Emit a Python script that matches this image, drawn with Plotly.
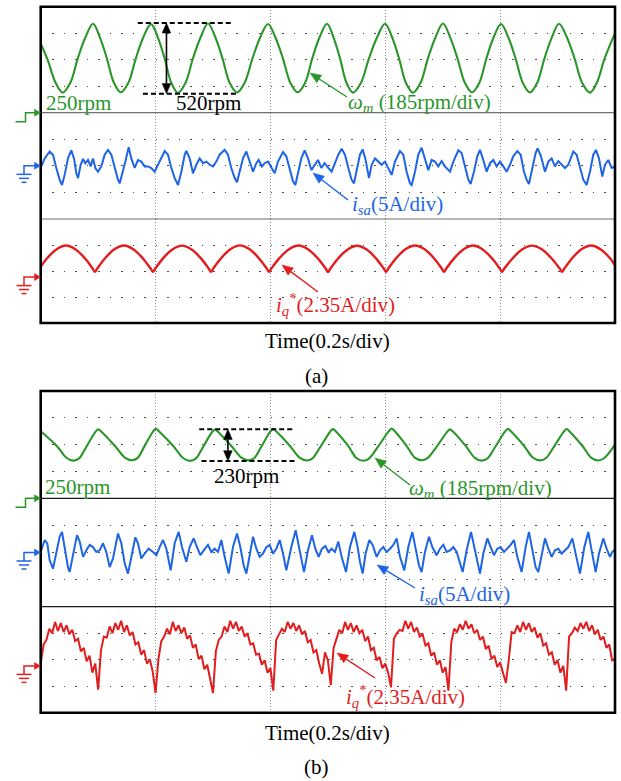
import math
import plotly.graph_objects as go

# ------------------------------------------------------------------
# Scope captures: time in ms (0.2 s/div), speed in rpm, currents in A
# ------------------------------------------------------------------

# (a) rotor speed
wm_a_t = [0, 12.0, 26.0, 38.3,
          51.5, 64.7, 77.9, 91.1, 103.2, 115.2, 127.3, 139.3,
          152.5, 165.7, 178.9, 192.1, 203.9, 215.6, 227.4, 239.1,
          252.2, 265.2, 278.3, 291.3, 303.9, 316.5, 329.2, 341.8,
          355.3, 368.8, 382.3, 395.8, 408.7, 421.6, 434.6, 447.5,
          460.3, 473.0, 485.8, 498.5, 509.8, 521.2, 532.5, 543.8,
          557.7, 571.6, 585.6, 599.5, 611.7, 623.9, 636.1, 648.3,
          661.4, 674.4, 687.5, 700.5, 713.1, 725.7, 738.4, 751.0,
          763.6, 776.2, 788.9, 801.5, 814.1, 826.7, 839.4, 852.0,
          864.6, 877.2, 889.9, 902.5, 916.0, 929.5, 943.0, 956.5,
          968.5, 982.0, 1000]
wm_a_v = [760, 640, 470, 398,
          470, 652, 805, 905, 803, 650, 472, 400,
          468, 650, 807, 902, 805, 652, 470, 396,
          470, 651, 803, 906, 807, 650, 468, 399,
          472, 650, 805, 903, 803, 652, 471, 401,
          469, 652, 807, 905, 805, 650, 470, 398,
          471, 650, 803, 904, 807, 651, 468, 397,
          470, 652, 805, 906, 803, 650, 472, 400,
          468, 651, 807, 903, 805, 652, 470, 399,
          471, 650, 803, 905, 807, 650, 469, 398,
          472, 650, 836]

# (a) phase current
isa_a_t = [0, 6.9, 15.6, 21.4, 27.2, 33.0, 37.1, 41.7, 47.5, 53.3,
           58.0, 62.0, 65.0, 69.6, 73.7, 77.7, 82.4, 87.0, 91.1, 95.1,
           99.8, 105.6, 111.4, 117.2, 123.0, 128.8, 134.6, 137.5, 143.3, 147.4,
           153.2, 157.8, 163.6, 169.4, 175.2, 181.0, 186.8, 192.6, 198.4, 204.2,
           210.0, 215.9, 221.7, 227.5, 233.3, 239.1, 244.9, 250.7, 253.6, 259.4,
           265.2, 271.0, 276.8, 282.6, 288.4, 294.2, 300.0, 305.8, 311.6, 320.3,
           326.1, 331.9, 337.7, 341.8, 346.4, 352.2, 358.1, 363.9, 369.7, 375.5,
           379.5, 385.3, 390.0, 395.8, 401.6, 407.4, 413.2, 421.9, 427.7, 433.5,
           439.3, 443.4, 448.0, 453.8, 459.6, 465.4, 471.2, 477.0, 482.8, 488.6,
           494.4, 500.8, 506.6, 512.4, 518.2, 524.0, 529.8, 535.6, 541.4, 545.5,
           550.1, 555.9, 560.6, 565.8, 571.6, 576.3, 582.1, 587.9, 593.7, 599.5,
           605.3, 611.1, 616.9, 625.6, 631.4, 637.2, 643.0, 645.9, 651.7, 657.5,
           663.3, 669.1, 674.9, 680.7, 686.5, 692.3, 698.1, 703.9, 712.7, 718.5,
           727.2, 733.0, 738.8, 744.6, 748.6, 754.4, 760.2, 764.9, 770.7, 776.5,
           782.3, 788.1, 793.9, 799.7, 805.5, 811.3, 817.1, 822.9, 829.9, 835.7,
           841.5, 846.1, 850.2, 856.0, 861.8, 865.3, 871.1, 878.1, 883.9, 889.7,
           895.5, 901.3, 907.1, 912.9, 918.7, 927.4, 933.2, 939.0, 944.8, 950.6,
           956.4, 962.2, 966.9, 972.1, 977.9, 982.5, 988.3, 994.1, 1000]
isa_a_v = [-0.4, 1.4, 2.7, 2.1, -0.4, -2.6, -3.6, -1.7, 1.4, 2.9,
           1.4, -1.4, -2.3, 0.2, 1.3, 0.5, 1.1, -0.1, 1.4, -0.4,
           -1.1, -0.1, 2.1, 3.0, 2.1, -0.4, -2.6, -3.3, -1.1, 0.8,
           3.5, 1.4, -0.4, 1.1, 0.8, -0.1, -0.1, -0.4, -1.1, 0.2,
           1.8, 2.8, 2.1, -0.4, -2.3, -3.6, -1.1, 2.1, 2.8, 1.4,
           -1.4, 0.2, 1.4, 0.5, 0.8, 0.2, -0.1, 0.8, 2.1, 3.0,
           2.1, -0.4, -2.3, -3.1, -1.1, 1.4, 2.7, 0.8, -1.1, 0.5,
           1.1, -0.1, 0.5, 0.8, -0.4, -1.4, 0.8, 2.6, 1.8, -0.8,
           -2.9, -3.6, -1.1, 1.4, 2.9, 1.4, -0.8, 0.2, 1.1, -0.4,
           0.5, -0.4, -1.1, 0.5, 2.1, 3.2, 2.1, -0.4, -2.6, -3.3,
           -1.1, 2.1, 3.1, 1.1, -2.3, 0.2, 1.4, 0.8, 0.2, 0.8,
           -0.4, -1.7, 0.8, 2.8, 2.1, -1.1, -3.3, -3.6, -1.1, 2.1,
           3.4, 1.4, -0.8, 1.1, 0.8, -0.1, 0.9, -0.1, -1.1, 0.8,
           2.9, 2.4, -0.1, -2.6, -3.4, -1.1, 1.8, 3.0, 1.1, -1.1,
           0.5, 1.1, -0.1, 0.8, -0.1, -1.1, 0.2, 1.8, 2.8, 2.1,
           -1.1, -2.6, -3.4, -0.8, 2.4, 3.3, 1.8, -1.1, 0.8, 1.4,
           -0.1, 0.9, 0.2, -0.4, 0.2, 2.7, 2.1, -0.4, -2.6, -3.6,
           -1.1, 2.1, 3.0, 1.4, -2.0, 0.2, 1.1, -0.4, -0.1]

# (a) q-axis current reference
iq_a_t = [0, 10.4, 27.2, 44.0, 60.9, 77.7, 90.5, 94.5,
          98.5, 111.3, 128.2, 145.0, 161.8, 178.7, 191.5, 195.5,
          199.5, 212.3, 229.2, 246.0, 262.8, 279.7, 292.5, 296.5,
          300.5, 313.3, 330.2, 347.0, 363.8, 380.7, 393.5, 397.5,
          401.5, 414.6, 431.8, 448.9, 466.0, 483.2, 496.3, 500.3,
          504.3, 517.1, 534.0, 550.8, 567.6, 584.5, 597.3, 601.3,
          605.3, 618.1, 635.0, 651.8, 668.6, 685.5, 698.3, 702.3,
          706.3, 719.1, 736.0, 752.8, 769.6, 786.5, 799.3, 803.3,
          807.3, 820.7, 838.1, 855.6, 873.0, 890.4, 903.8, 907.8,
          911.8, 924.7, 941.5, 958.4, 975.3, 992.1, 1000]
iq_a_v = [0.94, 1.65, 2.50, 2.85, 2.50, 1.65, 0.77, 0.47,
          0.77, 1.66, 2.51, 2.86, 2.50, 1.64, 0.77, 0.47,
          0.77, 1.65, 2.49, 2.84, 2.49, 1.65, 0.78, 0.48,
          0.78, 1.66, 2.52, 2.87, 2.51, 1.66, 0.77, 0.47,
          0.77, 1.65, 2.50, 2.85, 2.50, 1.65, 0.77, 0.46,
          0.76, 1.64, 2.48, 2.83, 2.49, 1.65, 0.77, 0.47,
          0.77, 1.66, 2.51, 2.86, 2.51, 1.66, 0.78, 0.48,
          0.78, 1.65, 2.50, 2.85, 2.50, 1.65, 0.77, 0.47,
          0.77, 1.64, 2.49, 2.84, 2.49, 1.64, 0.77, 0.47,
          0.77, 1.66, 2.51, 2.86, 2.50, 1.65, 1.05]

# (b) rotor speed
wm_b_t = [0, 28.0, 44.8,
          56.8, 66.8, 78.5, 95.3, 100.3, 105.3, 129.4, 146.5,
          158.5, 168.5, 179.6, 195.8, 200.8, 205.8, 230.4, 247.9,
          259.9, 269.9, 281.7, 298.5, 303.5, 308.5, 332.5, 349.5,
          361.5, 371.5, 383.3, 400.0, 405.0, 410.0, 434.1, 451.2,
          463.2, 473.2, 486.1, 504.0, 509.0, 514.0, 535.4, 549.7,
          561.7, 571.7, 586.5, 606.2, 611.2, 616.2, 637.3, 651.4,
          663.4, 673.4, 688.1, 707.7, 712.7, 717.7, 740.3, 755.9,
          767.9, 777.9, 790.8, 808.7, 813.7, 818.7, 841.6, 857.4,
          869.4, 879.4, 892.7, 910.9, 915.9, 920.9, 943.4, 958.9,
          970.9, 980.9, 1000]
wm_b_v = [737, 630, 545,
          524, 540, 618, 733, 752, 736, 630, 546,
          527, 542, 620, 737, 756, 738, 632, 543,
          522, 538, 616, 732, 750, 734, 628, 545,
          526, 541, 619, 736, 755, 737, 630, 544,
          525, 540, 618, 734, 753, 736, 631, 543,
          523, 539, 620, 738, 757, 739, 630, 546,
          527, 542, 617, 733, 751, 735, 629, 544,
          524, 540, 619, 736, 755, 737, 631, 545,
          526, 541, 618, 735, 754, 736, 630, 544,
          525, 541, 640]

# (b) phase current
isa_b_t = [0, 6.9, 11.5, 15.6, 21.4, 27.2, 33.0, 37.1, 41.7, 47.5,
           50.4, 56.2, 63.2, 67.9, 73.7, 79.5, 85.3, 91.1, 96.9, 102.7,
           108.5, 114.3, 120.1, 125.9, 134.6, 140.4, 146.2, 152.0, 157.8, 164.8,
           169.4, 175.2, 181.0, 188.0, 195.5, 201.3, 207.1, 213.0, 218.8, 226.3,
           233.3, 240.2, 246.0, 253.6, 259.4, 266.3, 272.2, 278.0, 283.8, 291.3,
           297.1, 302.9, 308.7, 314.5, 320.3, 327.3, 334.8, 341.8, 347.6, 353.4,
           358.1, 363.9, 369.7, 375.5, 381.3, 387.1, 392.9, 398.7, 404.5, 410.3,
           416.1, 421.9, 427.7, 436.4, 444.0, 450.9, 458.5, 465.4, 472.4, 478.2,
           484.0, 489.8, 495.6, 501.0, 506.6, 512.4, 518.2, 524.0, 531.6, 538.5,
           546.1, 551.9, 555.9, 560.6, 565.8, 572.2, 578.0, 585.0, 590.8, 596.6,
           602.4, 608.2, 614.0, 619.8, 625.6, 633.1, 640.1, 647.1, 652.9, 658.7,
           663.3, 669.1, 676.1, 681.9, 689.4, 695.2, 701.0, 706.8, 712.7, 718.5,
           724.3, 730.1, 734.7, 741.7, 749.2, 755.0, 762.0, 764.9, 770.7, 777.7,
           783.5, 789.3, 795.1, 800.9, 806.7, 812.5, 818.3, 824.1, 829.9, 837.4,
           844.4, 850.2, 856.0, 861.8, 866.5, 872.3, 878.1, 883.9, 889.7, 895.5,
           901.3, 907.1, 912.9, 918.7, 925.7, 931.5, 939.0, 946.6, 953.5, 959.3,
           966.3, 972.1, 979.6, 985.4, 991.2, 995.3, 1000]
isa_b_v = [0.1, 2.3, 1.7, -1.4, -3.0, -0.2, 2.9, 3.8, 1.0, -2.7,
           -3.6, -0.2, 3.2, 2.0, -0.8, 0.4, 1.4, 1.0, 0.1, 0.4,
           1.7, 0.1, -2.7, -1.1, 3.5, 1.7, -2.0, -3.9, -0.8, 2.8,
           1.7, -1.1, -0.2, 0.7, 0.1, -0.5, 1.0, 2.3, 0.7, -3.3,
           1.7, 3.8, 1.0, -1.7, 1.0, 2.6, 1.0, -0.5, 0.4, 1.4,
           0.1, 0.7, 0.1, 2.3, -0.8, -3.9, 1.0, 3.5, 1.0, -2.4,
           -3.9, -0.8, 2.9, 0.7, -0.8, -0.2, 1.0, 1.4, -0.2, 0.7,
           2.3, -0.2, -3.3, 1.0, 4.1, 0.4, -3.6, 0.4, 3.2, 0.7,
           -0.8, 0.7, 1.2, 0.1, 0.7, 0.1, 2.0, -0.8, -3.6, 1.0,
           3.8, 1.0, -1.7, -3.9, -0.2, 2.3, 1.4, -0.8, 0.4, 1.0,
           0.1, 0.7, 1.4, 2.6, -0.8, -3.3, 1.0, 3.8, 0.7, -2.4,
           -3.6, 0.1, 2.9, 1.0, -0.5, 0.7, 1.4, 0.1, 0.4, 1.0,
           0.1, -2.0, -3.6, 0.4, 3.8, 1.0, -2.7, -3.9, -0.2, 2.6,
           1.0, -0.5, 0.7, 1.0, 0.1, 0.7, 1.4, 2.3, -0.8, -3.6,
           1.0, 3.8, 0.7, -2.7, -3.6, -0.2, 2.6, 0.7, -0.8, 0.4,
           0.7, -0.2, 0.4, 1.0, 2.6, -0.2, -3.9, 1.0, 3.8, 0.4,
           -3.6, -0.2, 2.6, 0.7, -0.8, 0.1, 0.5]

# (b) q-axis current reference, sampled every IQ_B_DT ms
IQ_B_DT = 5
iq_b_v = [0.2, 1.9, 2.3, 3.3, 2.9, 3.9, 3.1, 3.8, 3.0, 3.6,
          2.8, 3.2, 2.2, 2.4, 1.3, 1.6, 0.4, 0.9, -0.6, 0.2,
          -2.1, 1.4, 2.6, 2.5, 3.5, 2.9, 3.8, 3.2, 4.0, 3.0,
          3.6, 2.7, 3.0, 1.9, 2.1, 1.0, 1.4, 0.2, 0.6, -0.5,
          -2.4, 0.6, 2.2, 2.6, 3.3, 2.8, 3.9, 3.1, 3.6, 2.9,
          3.4, 2.4, 2.7, 1.6, 1.9, 0.6, 0.9, -0.3, 0.1, -1.2,
          -2.4, 1.3, 2.3, 2.6, 3.5, 3.0, 4.0, 3.3, 3.9, 3.1,
          3.5, 2.6, 2.9, 1.9, 2.0, 1.0, 1.1, 0.1, 0.5, -0.6,
          -0.2, -2.2, 2.3, 2.8, 3.3, 3.0, 3.9, 3.3, 3.8, 3.1,
          3.6, 2.8, 3.1, 2.1, 2.3, 1.2, 1.4, 0.2, -0.7, 1.2,
          0.5, -1.7, 1.6, 2.4, 3.2, 2.9, 3.9, 3.2, 3.8, 3.0,
          3.6, 2.9, 3.2, 2.2, 2.6, 1.4, 1.6, 0.5, 0.8, -0.2,
          0.2, -0.6, -1.9, 2.4, 2.9, 3.2, 3.1, 4.0, 3.3, 3.9,
          3.0, 3.4, 2.6, 2.8, 1.8, 2.0, 0.9, 1.2, 0.1, 0.5,
          -0.6, -0.1, -2.2, 2.1, 3.3, 3.0, 3.7, 3.2, 4.0, 3.3,
          3.7, 2.9, 3.2, 2.3, 2.6, 1.5, 1.8, 0.6, 0.9, -0.1,
          0.3, -0.6, -1.5, 0.5, 3.0, 2.9, 3.6, 3.0, 3.9, 3.2,
          3.8, 3.0, 3.4, 2.5, 2.9, 1.8, 2.0, 1.0, 1.2, 0.1,
          0.5, -0.6, 0.0, -2.2, 2.6, 2.9, 3.4, 3.1, 3.8, 3.3,
          3.9, 3.1, 3.6, 2.8, 3.2, 2.3, 2.6, 1.6, 1.9, 0.5,
          0.6]
iq_b_t = [i * IQ_B_DT for i in range(len(iq_b_v))]

# speed ripple markers: top level and peak-to-peak span (rpm)
ripple_top_a, ripple_a = 910, 520
ripple_top_b, ripple_b = 752, 230
# dashed-line starts (upper, lower), dashed length and arrow position (ms)
ripple_x_a = [169, 178, 164, 219]
ripple_x_b = [276, 280, 166, 326]

# channel scales
SPEED_REF = 250      # rpm at the speed channel marker
SPEED_DIV = 195      # rpm per grid row
ISA_DIV = 5          # A per grid row
IQ_DIV = 2.35        # A per grid row
IQ_MID = 0.55        # A at the middle grid row of the iq* strip

# ------------------------------------------------------------------
W, H = 621, 781
GREEN, BLUE, RED = "#2a962a", "#1e64e6", "#e21d1d"
FONT = "Liberation Serif"

LEFT, RIGHT = 40.7, 615.0
ROWS_A = [6.7, 112.7, 219.0, 323.0]
ROWS_B = [391.0, 498.3, 606.7, 712.7]


def fx(x):
    return x / W


def fy(y):
    return 1 - y / H


xstyle = dict(range=[0, 1000], domain=[fx(LEFT), fx(RIGHT)],
              tickvals=[200, 400, 600, 800], showgrid=True,
              gridcolor="#8c8c8c", gridwidth=1, griddash="1px,2px",
              showticklabels=False, ticks="", zeroline=False,
              showline=False, fixedrange=True)
ystyle = dict(showgrid=True, gridcolor="#4a4a4a", gridwidth=1.3,
              griddash="1.3px,10.2px", showticklabels=False, ticks="",
              zeroline=False, showline=False, fixedrange=True)


def strip_axes(rows, xname):
    top, s1, s2, bot = rows
    sp_rng = [SPEED_REF, SPEED_REF + 4 * SPEED_DIV]
    return [
        dict(domain=[fy(s1), fy(top)], range=sp_rng, anchor=xname,
             tickvals=[SPEED_REF + k * SPEED_DIV for k in (1, 2, 3)], **ystyle),
        dict(domain=[fy(s2), fy(s1)], range=[-2 * ISA_DIV, 2 * ISA_DIV],
             anchor=xname, tickvals=[-ISA_DIV, 0, ISA_DIV], **ystyle),
        dict(domain=[fy(bot), fy(s2)],
             range=[IQ_MID - 2 * IQ_DIV, IQ_MID + 2 * IQ_DIV], anchor=xname,
             tickvals=[IQ_MID - IQ_DIV, IQ_MID, IQ_MID + IQ_DIV], **ystyle),
    ]


ya = strip_axes(ROWS_A, "x")
yb = strip_axes(ROWS_B, "x2")

fig = go.Figure()


def add_line(t, v, xa, yax, color, width, shape="spline"):
    fig.add_trace(go.Scatter(
        x=t, y=v, xaxis=xa, yaxis=yax, mode="lines", hoverinfo="skip",
        line=dict(color=color, width=width, shape=shape,
                  **({"smoothing": 1.0} if shape == "spline" else {}))))


add_line(wm_a_t, wm_a_v, "x", "y", GREEN, 2.1)
add_line(isa_a_t, isa_a_v, "x", "y2", BLUE, 2.0, "linear")
add_line(iq_a_t, iq_a_v, "x", "y3", RED, 2.4)
add_line(wm_b_t, wm_b_v, "x2", "y4", GREEN, 2.1)
add_line(isa_b_t, isa_b_v, "x2", "y5", BLUE, 2.0, "linear")
add_line(iq_b_t, iq_b_v, "x2", "y6", RED, 2.0, "linear")

shapes = []
annotations = []


def paper_path(pts, close=False):
    s = "M " + " L ".join(f"{fx(x)},{fy(y)}" for x, y in pts)
    return s + (" Z" if close else "")


def panel_frame(rows, sep_color):
    top, s1, s2, bot = rows
    for yy in (s1, s2):
        shapes.append(dict(type="line", xref="paper", yref="paper",
                           x0=fx(LEFT), x1=fx(RIGHT), y0=fy(yy), y1=fy(yy),
                           line=dict(color=sep_color, width=1.2)))
    shapes.append(dict(type="rect", xref="paper", yref="paper",
                       x0=fx(LEFT), x1=fx(RIGHT), y0=fy(bot), y1=fy(top),
                       line=dict(color="black", width=2.6)))


def head(hx, hy, tx, ty, color, length=10.0, half=4.0):
    # filled triangular arrow head with its tip at (hx, hy), in pixels
    dx, dy = hx - tx, hy - ty
    n = math.hypot(dx, dy)
    ux, uy = dx / n, dy / n
    bx, by = hx - ux * length, hy - uy * length
    pts = [(hx, hy), (bx - uy * half, by + ux * half),
           (bx + uy * half, by - ux * half)]
    shapes.append(dict(type="path", xref="paper", yref="paper",
                       path=paper_path(pts, True), fillcolor=color,
                       line=dict(color=color, width=0.5)))
    return bx, by


def pointer(hx, hy, tx, ty, color):
    bx, by = head(hx, hy, tx, ty, color, 11, 4.5)
    shapes.append(dict(type="path", xref="paper", yref="paper",
                       path=paper_path([(tx, ty), (bx, by)]),
                       line=dict(color=color, width=1.4)))


def step_marker(y, color):
    shapes.append(dict(type="path", xref="paper", yref="paper",
                       path=paper_path([(15.5, y + 9), (25.5, y + 9),
                                        (25.5, y), (35, y)]),
                       line=dict(color=color, width=1.5)))
    head(LEFT - 0.2, y, 20, y, color, 6, 3.5)


def ground_marker(y, color):
    shapes.append(dict(type="path", xref="paper", yref="paper",
                       path=paper_path([(35, y), (24, y), (24, y + 8.5)]),
                       line=dict(color=color, width=1.5)))
    for dy, hw in ((8.5, 7.5), (12.5, 5), (16.5, 2.5)):
        shapes.append(dict(type="line", xref="paper", yref="paper",
                           x0=fx(24 - hw), x1=fx(24 + hw),
                           y0=fy(y + dy), y1=fy(y + dy),
                           line=dict(color=color, width=1.5)))
    head(LEFT - 0.2, y, 20, y, color, 6, 3.5)


def text(x, y, s, color="black", anchor="left", size=21):
    annotations.append(dict(x=fx(x), y=fy(y), xref="paper", yref="paper",
                            text=s, showarrow=False, xanchor=anchor,
                            yanchor="middle",
                            font=dict(family=FONT, size=size, color=color)))


def ripple(xa, yax, top, span, xs):
    # dashed top/bottom levels and a double arrow spanning the ripple
    lo = top - span
    up0, lo0, length, xarr = xs
    dash = dict(color="black", width=2, dash="5px,3px")
    shapes.append(dict(type="line", xref=xa, yref=yax, x0=up0,
                       x1=up0 + length, y0=top, y1=top, line=dash))
    shapes.append(dict(type="line", xref=xa, yref=yax, x0=lo0,
                       x1=lo0 + length, y0=lo, y1=lo, line=dash))
    hl = 0.38 * SPEED_DIV     # arrow head length (rpm)
    hw = 7.5                  # arrow head half width (ms)
    for tip, base in ((top, top - hl), (lo, lo + hl)):
        shapes.append(dict(type="path", xref=xa, yref=yax,
                           path=f"M {xarr},{tip} L {xarr - hw},{base} "
                                f"L {xarr + hw},{base} Z",
                           fillcolor="black", line=dict(color="black", width=0.5)))
    shapes.append(dict(type="line", xref=xa, yref=yax, x0=xarr, x1=xarr,
                       y0=lo + hl, y1=top - hl,
                       line=dict(color="black", width=1.6)))


def zero_px(rows, k):
    # pixel row of a channel's reference level inside strip k
    top = rows[k]
    bot = rows[k + 1]
    row = (bot - top) / 4
    if k == 0:
        return bot
    if k == 1:
        return (top + bot) / 2
    return (top + bot) / 2 + IQ_MID / IQ_DIV * row


for rows, sep in ((ROWS_A, "#707070"), (ROWS_B, "#1a1a1a")):
    panel_frame(rows, sep)
    step_marker(zero_px(rows, 0), GREEN)
    ground_marker(zero_px(rows, 1), BLUE)
    ground_marker(zero_px(rows, 2), RED)

ripple("x", "y", ripple_top_a, ripple_a, ripple_x_a)
ripple("x2", "y4", ripple_top_b, ripple_b, ripple_x_b)

WM = "<i>ω<sub>m</sub></i> (185rpm/div)"
ISA = "<i>i<sub>sa</sub></i>(5A/div)"
IQ = "<i>i<sub>q</sub></i><sup>*</sup>(2.35A/div)"

# panel (a) labels
text(44, 103, f"{SPEED_REF}rpm", GREEN)
text(174, 103, f"{ripple_a}rpm")
text(346, 103, WM, GREEN)
text(350, 205, ISA, BLUE)
text(274, 305, IQ, RED)
text(327.5, 341, "Time(0.2s/div)", anchor="center")
text(316.5, 376, "(a)", anchor="center")
pointer(310, 73, 347, 97, GREEN)
pointer(313, 173, 348, 200, BLUE)
pointer(282, 265, 318, 292, RED)

# panel (b) labels
text(43, 487, f"{SPEED_REF}rpm", GREEN)
text(212, 476, f"{ripple_b}rpm")
text(407, 489, WM, GREEN)
text(417, 595, ISA, BLUE)
text(344, 696, IQ, RED)
text(327.5, 733, "Time(0.2s/div)", anchor="center")
text(316.5, 767, "(b)", anchor="center")
pointer(375, 458, 410, 485, GREEN)
pointer(377, 565, 415, 588, BLUE)
pointer(337, 653, 375, 678, RED)

fig.update_layout(
    width=W, height=H, margin=dict(l=0, r=0, t=0, b=0, pad=0),
    paper_bgcolor="white", plot_bgcolor="white", showlegend=False,
    xaxis=dict(anchor="y3", **xstyle),
    xaxis2=dict(anchor="y6", **xstyle),
    yaxis=ya[0], yaxis2=ya[1], yaxis3=ya[2],
    yaxis4=yb[0], yaxis5=yb[1], yaxis6=yb[2],
    shapes=shapes, annotations=annotations,
)

fig.write_html("out.html")
